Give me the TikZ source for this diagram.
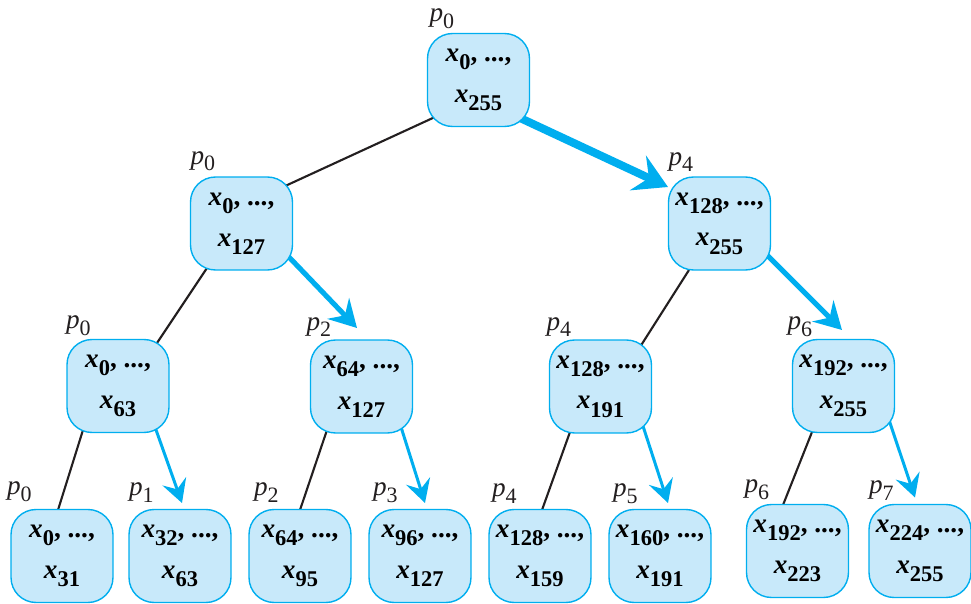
\documentclass[tikz,border=0pt]{standalone}
\usepackage{fontspec}
\setmainfont{Liberation Serif}
\usetikzlibrary{arrows.meta, calc, backgrounds}

\definecolor{boxblue}{RGB}{200,233,250}
\definecolor{cyanline}{RGB}{0,174,239}
\definecolor{darkline}{RGB}{35,31,32}

% x_i and p_i with large, lowered subscripts
\newcommand{\xs}[1]{\textit{x}\raisebox{-0.3em}{\fontsize{12.8}{12.8}\selectfont #1}}
\newcommand{\ps}[1]{\textit{p}\raisebox{-0.24em}{\fontsize{12.5}{12.5}\selectfont #1}}
\newcommand{\range}[2]{\xs{#1}, ...,\\\xs{#2}}

\begin{document}
\begin{tikzpicture}[
    x=0.02cm, y=0.02cm,
    % tree nodes
    box/.style={rectangle, draw=cyanline, line width=0.8pt, fill=boxblue,
                rounded corners=0.5cm, minimum width=2.04cm, minimum height=1.86cm,
                inner sep=0pt, align=center,
                font=\fontsize{15.5}{23.2}\selectfont\bfseries},
    % processor labels
    plab/.style={font=\fontsize{15.5}{18}\selectfont, text=darkline, inner sep=0pt},
    % black split lines
    link/.style={darkline, line width=1.2pt},
    % blue send arrows
    bigarrow/.style={cyanline, line width=4.6pt, shorten <=-0.15cm,
                     -{Stealth[length=0.66cm, width=0.76cm, inset=0.24cm]}},
    midarrow/.style={cyanline, line width=2.9pt, shorten <=-0.15cm,
                     -{Stealth[length=0.54cm, width=0.6cm, inset=0.19cm]}},
    smallarrow/.style={cyanline, line width=1.7pt, shorten <=-0.15cm,
                       -{Stealth[length=0.46cm, width=0.5cm, inset=0.17cm]}}
]
\useasboundingbox (0,0) rectangle (971,603);

%-------- LEVEL 0 --------
\node[box] (root) at (478.5,523) {\range{0}{255}};

%-------- LEVEL 1 --------
\node[box] (l1a) at (241.5,379.5) {\range{0}{127}};
\node[box] (l1b) at (719.5,379.5) {\range{128}{255}};

%-------- LEVEL 2 --------
\node[box] (l2a) at (118,217)     {\range{0}{63}};
\node[box] (l2b) at (361.5,216.5) {\range{64}{127}};
\node[box] (l2c) at (600.5,216.5) {\range{128}{191}};
\node[box] (l2d) at (843.5,217)   {\range{192}{255}};

%-------- LEVEL 3 --------
\node[box] (l3a) at (62,47)    {\range{0}{31}};
\node[box] (l3b) at (180,47)   {\range{32}{63}};
\node[box] (l3c) at (300,47)   {\range{64}{95}};
\node[box] (l3d) at (420,47)   {\range{96}{127}};
\node[box] (l3e) at (540,47)   {\range{128}{159}};
\node[box] (l3f) at (660,47)   {\range{160}{191}};
\node[box] (l3g) at (797.5,52) {\range{192}{223}};
\node[box] (l3h) at (920,52)   {\range{224}{255}};

%-------- PROCESSOR LABELS --------
\node[plab] (proot) at ($(root.north west)+(15,14)$) {\ps{0}};
\node[plab] (pl1a)  at ($(l1a.north west)+(13,15)$)  {\ps{0}};
\node[plab] (pl1b)  at ($(l1b.north west)+(13,14)$)  {\ps{4}};
\node[plab] (pl2a)  at ($(l2a.north west)+(12,13)$)  {\ps{0}};
\node[plab] (pl2b)  at ($(l2b.north west)+(9,12)$)   {\ps{2}};
\node[plab] (pl2c)  at ($(l2c.north west)+(10,12)$)  {\ps{4}};
\node[plab] (pl2d)  at ($(l2d.north west)+(8,12)$)   {\ps{6}};
\node[plab] (pl3a)  at ($(l3a.north west)+(9,17)$)   {\ps{0}};
\node[plab] (pl3b)  at ($(l3b.north west)+(13,16)$)  {\ps{1}};
\node[plab] (pl3c)  at ($(l3c.north west)+(18,16)$)  {\ps{2}};
\node[plab] (pl3d)  at ($(l3d.north west)+(17,16)$)  {\ps{3}};
\node[plab] (pl3e)  at ($(l3e.north west)+(16,15)$)  {\ps{4}};
\node[plab] (pl3f)  at ($(l3f.north west)+(17,15)$)  {\ps{5}};
\node[plab] (pl3g)  at ($(l3g.north west)+(11,14)$)  {\ps{6}};
\node[plab] (pl3h)  at ($(l3h.north west)+(13,13)$)  {\ps{7}};

\begin{scope}[on background layer]
%-------- LINES: kept half --------
\draw[link] ($(root.center)+(-43.5,-37)$)  -- ($(l1a.center)+(41.5,36.5)$);
\draw[link] ($(l1a.center)+(-34.5,-44.5)$) -- ($(l2a.center)+(39,43)$);
\draw[link] ($(l1b.center)+(-30.5,-46.5)$) -- ($(l2c.center)+(39.5,39.5)$);
\draw[link] ($(l2a.center)+(-35,-44)$)     -- ($(l3a.center)+(-4,46)$);
\draw[link] ($(l2b.center)+(-34.5,-43.5)$) -- ($(l3c.center)+(0,46)$);
\draw[link] ($(l2c.center)+(-30.5,-45.5)$) -- ($(l3e.center)+(2,46)$);
\draw[link] ($(l2d.center)+(-31.5,-46)$)   -- ($(l3g.center)+(-14.5,46)$);

%-------- ARROWS: sent half --------
\draw[bigarrow]   ($(root.center)+(39.5,-37)$)  -- ($(l1b.center)+(-51.5,36.5)$);
\draw[midarrow]   ($(l1a.center)+(45.5,-31.5)$) -- ($(l2b.center)+(-4.5,58.5)$);
\draw[midarrow]   ($(l1b.center)+(47.5,-31.5)$) -- ($(l2d.center)+(-1.5,56)$);
\draw[smallarrow] ($(l2a.center)+(37,-41)$)     -- ($(l3b.center)+(2,53)$);
\draw[smallarrow] ($(l2b.center)+(39.5,-40.5)$) -- ($(l3d.center)+(5,53)$);
\draw[smallarrow] ($(l2c.center)+(41.5,-36.5)$) -- ($(l3f.center)+(8,53)$);
\draw[smallarrow] ($(l2d.center)+(45.5,-34)$)   -- ($(l3h.center)+(-5,53.5)$);
\end{scope}

\end{tikzpicture}
\end{document}
